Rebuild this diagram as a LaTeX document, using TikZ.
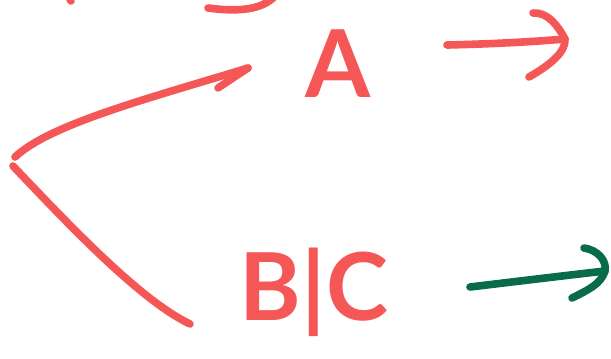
\documentclass[tikz,border=0pt]{standalone}
\usepackage{fontspec}
\setmainfont{Lato}
\definecolor{pen}{HTML}{F45756}
\definecolor{ink}{HTML}{0A6B4C}
\begin{document}
\begin{tikzpicture}[x=0.03cm,y=-0.03cm,
  stroke/.style={line width=6.5pt,line cap=round,line join=round},
  handtext/.style={text=pen,font=\fontsize{80}{80}\selectfont\bfseries,inner sep=0pt}]
\useasboundingbox (0,0) rectangle (611,358);
% labels
\node[handtext] (A) at (338,64) {A};
\node[handtext] (BC) at (314,292) {B|C};
% coordinates
\coordinate (tip) at (15,157);
\coordinate (up) at (248,68);
\coordinate (low) at (190,324);
\coordinate (as) at (447,45);
\coordinate (ae) at (565,39);
\coordinate (gs) at (470,287);
\coordinate (ge) at (605,271);
% top partial strokes
\draw[stroke,pen] (68,-5) -- (71,1);
\draw[stroke,pen] (208,8) .. controls (238,12) and (262,10) .. (275,-4);
% bracket
\draw[stroke,pen] (tip) .. controls (50,124) and (150,98) .. (up);
\draw[stroke,pen] (218,88) -- (up);
\draw[stroke,pen] (13,166) .. controls (70,226) and (140,300) .. (low);
% A arrow
\draw[stroke,pen] (as) .. controls (490,44) and (530,42) .. (ae);
\draw[stroke,pen] (533,13) .. controls (548,12) and (558,26) .. (ae) .. controls (566,52) and (550,65) .. (529,77);
% green arrow
\draw[stroke,ink] (gs) .. controls (520,281) and (570,275) .. (ge);
\draw[stroke,ink] (584,248) .. controls (598,250) and (607,261) .. (ge) .. controls (601,284) and (588,290) .. (572,298);
\end{tikzpicture}
\end{document}
